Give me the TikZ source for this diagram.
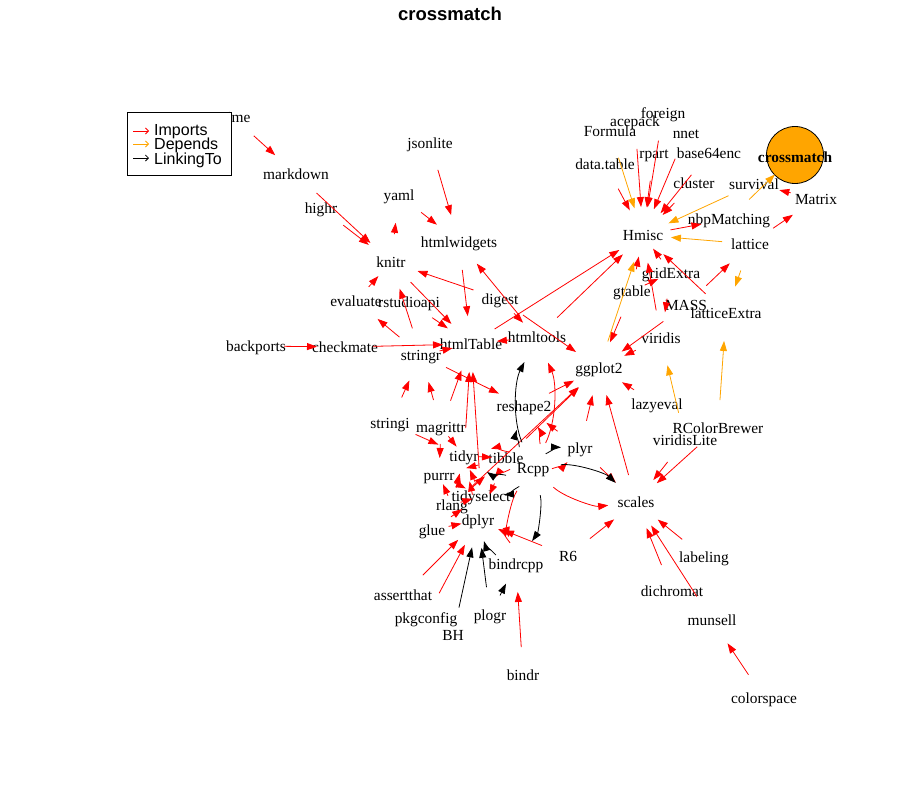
\documentclass[tikz,border=0pt]{standalone}
\usepackage{fontspec}
\setmainfont{Liberation Serif}
\setsansfont{Liberation Sans}
\usetikzlibrary{arrows.meta}
\definecolor{dorange}{HTML}{FFA500}
\definecolor{dred}{HTML}{FF0000}
\tikzset{
  lbl/.style={font=\fontsize{15.4}{15.4}\selectfont, inner sep=0pt, text height=10pt, text depth=0pt},
  edge/.style={line width=0.8pt, shorten >=28pt, shorten <=28pt, -{Triangle[length=10pt,width=7pt]}},
  imp/.style={edge, draw=dred},
  dep/.style={edge, draw=dorange},
  lnk/.style={edge, draw=black},
  sh/.style={shorten >=#1pt, shorten <=#1pt},
  legarrow/.style={line width=0.8pt, -{Straight Barb[length=3pt,width=6pt]}}
}
\newcommand\ed[3]{\draw[#1] (#2.center) -- (#3.center);}
\newcommand\cv[3]{\draw[#1] (#2.center) to (#3.center);}
\begin{document}
\begin{tikzpicture}[x=1pt,y=-1pt]
\useasboundingbox (0,0) rectangle (901,811);
% vertices (positions)
\node[lbl] (mime) at (233,117) {mime};
\node[lbl] (markdown) at (296,174) {markdown};
\node[lbl] (jsonlite) at (430,143) {jsonlite};
\node[lbl] (yaml) at (399,195) {yaml};
\node[lbl] (highr) at (321,208) {highr};
\node[lbl] (htmlwidgets) at (459,242) {htmlwidgets};
\node[lbl] (knitr) at (391,262) {knitr};
\node[lbl] (evaluate) at (356,301) {evaluate};
\node[lbl] (rstudioapi) at (409,302) {rstudioapi};
\node[lbl] (digest) at (500,299) {digest};
\node[lbl] (backports) at (256,346) {backports};
\node[lbl] (checkmate) at (345,347) {checkmate};
\node[lbl] (htmlTable) at (471,344) {htmlTable};
\node[lbl] (stringr) at (421,355) {stringr};
\node[lbl] (htmltools) at (537,337) {htmltools};
\node[lbl] (foreign) at (663,113) {foreign};
\node[lbl] (acepack) at (635,121) {acepack};
\node[lbl] (Formula) at (610,131) {Formula};
\node[lbl] (nnet) at (686,133) {nnet};
\node[lbl] (rpart) at (654,153) {rpart};
\node[lbl] (base64enc) at (709,153) {base64enc};
\node[lbl] (datatable) at (605,164) {data.table};
\node[lbl] (cluster) at (694,183) {cluster};
\node[lbl] (survival) at (754,184) {survival};
\node[lbl] (Matrix) at (816,199) {Matrix};
\node[lbl] (nbpMatching) at (729,219) {nbpMatching};
\node[lbl] (Hmisc) at (643,235) {Hmisc};
\node[lbl] (lattice) at (750,244) {lattice};
\node[lbl] (gridExtra) at (671,273) {gridExtra};
\node[lbl] (gtable) at (632,291) {gtable};
\node[lbl] (MASS) at (686,305) {MASS};
\node[lbl] (latticeExtra) at (726,313) {latticeExtra};
\node[lbl] (viridis) at (661,338) {viridis};
\node[lbl] (ggplot2) at (599,368) {ggplot2};
\node[lbl] (lazyeval) at (657,404) {lazyeval};
\node[lbl] (reshape2) at (524,406) {reshape2};
\node[lbl] (stringi) at (390,423) {stringi};
\node[lbl] (magrittr) at (441,427) {magrittr};
\node[lbl] (RColorBrewer) at (718,428) {RColorBrewer};
\node[lbl] (viridisLite) at (685,440) {viridisLite};
\node[lbl] (plyr) at (580,448) {plyr};
\node[lbl] (tidyr) at (464,456) {tidyr};
\node[lbl] (tibble) at (506,458) {tibble};
\node[lbl] (Rcpp) at (533,468) {Rcpp};
\node[lbl] (purrr) at (439,475) {purrr};
\node[lbl] (tidyselect) at (481,496) {tidyselect};
\node[lbl] (scales) at (636,502) {scales};
\node[lbl] (rlang) at (452,505) {rlang};
\node[lbl] (dplyr) at (478,520) {dplyr};
\node[lbl] (glue) at (432,530) {glue};
\node[lbl] (R6) at (568,556) {R6};
\node[lbl] (labeling) at (704,557) {labeling};
\node[lbl] (bindrcpp) at (516,564) {bindrcpp};
\node[lbl] (dichromat) at (672,591) {dichromat};
\node[lbl] (assertthat) at (403,595) {assertthat};
\node[lbl] (plogr) at (490,615) {plogr};
\node[lbl] (pkgconfig) at (426,618) {pkgconfig};
\node[lbl] (munsell) at (712,620) {munsell};
\node[lbl] (BH) at (453,635) {BH};
\node[lbl] (bindr) at (523,675) {bindr};
\node[lbl] (colorspace) at (764,698) {colorspace};
% edges: Imports
\ed{imp}{mime}{markdown}
\ed{imp}{markdown}{knitr}
\ed{imp}{highr}{knitr}
\ed{imp}{knitr}{yaml}
\ed{imp}{yaml}{htmlwidgets}
\ed{imp}{jsonlite}{htmlwidgets}
\ed{imp}{htmlwidgets}{htmlTable}
\ed{imp}{htmltools}{htmlwidgets}
\ed{imp}{digest}{knitr}
\ed{imp}{knitr}{htmlTable}
\ed{imp}{rstudioapi}{htmlTable}
\ed{imp}{stringr}{knitr}
\ed{imp}{stringr}{evaluate}
\ed{imp,sh=19}{evaluate}{knitr}
\ed{imp}{backports}{checkmate}
\ed{imp}{checkmate}{htmlTable}
\ed{imp,sh=19}{stringr}{htmlTable}
\ed{imp,sh=20}{digest}{htmltools}
\ed{imp,sh=26}{htmltools}{htmlTable}
\ed{imp}{htmltools}{Hmisc}
\ed{imp}{htmlTable}{Hmisc}
\ed{imp}{digest}{ggplot2}
\ed{imp}{stringr}{reshape2}
\ed{imp}{stringi}{stringr}
\ed{imp}{magrittr}{stringr}
\ed{imp}{magrittr}{htmlTable}
\ed{imp}{tidyr}{htmlTable}
\ed{imp}{tidyselect}{htmlTable}
\ed{imp}{plyr}{reshape2}
\ed{imp}{reshape2}{ggplot2}
\ed{imp}{tibble}{ggplot2}
\ed{imp,sh=14}{tidyr}{tibble}
\ed{imp}{gtable}{ggplot2}
\ed{imp}{MASS}{ggplot2}
\ed{imp}{viridis}{ggplot2}
\ed{imp,sh=27}{lazyeval}{ggplot2}
\ed{imp}{plyr}{ggplot2}
\ed{imp}{scales}{ggplot2}
\ed{imp}{rlang}{ggplot2}
\ed{imp}{plyr}{scales}
\ed{imp}{RColorBrewer}{scales}
\ed{imp}{viridisLite}{scales}
\ed{imp}{R6}{scales}
\ed{imp}{labeling}{scales}
\ed{imp}{dichromat}{scales}
\ed{imp}{munsell}{scales}
\ed{imp}{colorspace}{munsell}
\ed{imp}{R6}{dplyr}
\ed{imp}{datatable}{Hmisc}
\ed{imp}{acepack}{Hmisc}
\ed{imp}{foreign}{Hmisc}
\ed{imp}{nnet}{Hmisc}
\ed{imp}{rpart}{Hmisc}
\ed{imp}{base64enc}{Hmisc}
\ed{imp}{cluster}{Hmisc}
\ed{imp,sh=17}{gridExtra}{Hmisc}
\ed{imp,sh=22}{gtable}{Hmisc}
\ed{imp}{viridis}{Hmisc}
\ed{imp}{latticeExtra}{Hmisc}
\ed{imp}{Hmisc}{nbpMatching}
\ed{imp}{lattice}{Matrix}
\ed{imp,sh=26}{Matrix}{survival}
\ed{imp,sh=14}{gtable}{gridExtra}
\ed{imp}{MASS}{lattice}
\ed{imp,sh=26}{gridExtra}{viridis}
\ed{imp}{stringi}{tidyr}
\ed{imp,sh=17}{magrittr}{purrr}
\ed{imp,sh=12}{magrittr}{tidyr}
\ed{imp}{assertthat}{dplyr}
\ed{imp}{pkgconfig}{dplyr}
\ed{imp,sh=17}{glue}{dplyr}
\ed{imp}{bindr}{bindrcpp}
\ed{imp,sh=17}{purrr}{tidyselect}
\ed{imp,sh=9}{rlang}{tidyselect}
\ed{imp,sh=10}{rlang}{purrr}
\ed{imp,sh=23}{glue}{tidyselect}
\ed{imp}{tibble}{dplyr}
\ed{imp,sh=15}{tidyselect}{tidyr}
\ed{imp,sh=26}{dplyr}{tidyr}
\ed{imp,sh=18}{rlang}{tidyr}
\ed{imp}{tibble}{purrr}
\ed{imp}{rlang}{tibble}
% Rcpp: Imports + LinkingTo
\cv{imp,bend right=25}{Rcpp}{htmltools}
\cv{lnk,bend left=25}{Rcpp}{htmltools}
\cv{imp,sh=25,bend right=25}{Rcpp}{reshape2}
\cv{lnk,sh=25,bend left=25}{Rcpp}{reshape2}
\cv{imp,sh=19,bend right=25}{Rcpp}{plyr}
\cv{lnk,sh=19,bend left=25}{Rcpp}{plyr}
\cv{imp,bend right=25}{Rcpp}{scales}
\cv{lnk,bend left=25}{Rcpp}{scales}
\cv{imp,bend right=25}{Rcpp}{bindrcpp}
\cv{lnk,bend left=25}{Rcpp}{bindrcpp}
\cv{imp,sh=23,bend right=25}{Rcpp}{tidyselect}
\cv{lnk,sh=23,bend left=25}{Rcpp}{tidyselect}
\cv{imp,bend right=25}{Rcpp}{tidyr}
\cv{lnk,bend left=25}{Rcpp}{tidyr}
\cv{imp,sh=22,bend right=25}{bindrcpp}{dplyr}
\cv{lnk,sh=22,bend left=25}{bindrcpp}{dplyr}
% LinkingTo only
\ed{lnk}{BH}{dplyr}
\ed{lnk}{plogr}{dplyr}
\ed{lnk,sh=22}{plogr}{bindrcpp}
% Depends
\ed{dep}{Formula}{Hmisc}
\ed{dep}{survival}{Hmisc}
\ed{dep}{lattice}{Hmisc}
\ed{dep}{ggplot2}{Hmisc}
\ed{dep}{lattice}{latticeExtra}
\ed{dep}{RColorBrewer}{latticeExtra}
\ed{dep}{viridisLite}{viridis}
% crossmatch vertex
\node[circle, draw=black, fill=dorange, line width=0.8pt, minimum size=57pt, inner sep=0pt] (crossmatch) at (795,155) {};
\ed{dep}{nbpMatching}{crossmatch}
\node[lbl, font=\fontsize{15.4}{15.4}\selectfont\bfseries] (cmlabel) at (795,157) {crossmatch};
% title
\node[font=\fontsize{18.5}{18.5}\selectfont\sffamily\bfseries, inner sep=0pt] (title) at (450,14) {crossmatch};
% legend
\node[draw=black, fill=white, line width=0.8pt, minimum width=104pt, minimum height=63pt, inner sep=0pt] (legend) at (179,143.5) {};
\begin{scope}[font=\fontsize{16}{16}\selectfont\sffamily]
\draw[legarrow, dred] (133,131) -- (149,131);
\draw[legarrow, dorange] (133,144) -- (149,144);
\draw[legarrow, black] (133,158) -- (149,158);
\node[anchor=west, inner sep=0pt] (limp) at (154,131.5) {Imports};
\node[anchor=west, inner sep=0pt] (ldep) at (154,145) {Depends};
\node[anchor=west, inner sep=0pt] (llnk) at (154,160) {LinkingTo};
\end{scope}
\end{tikzpicture}
\end{document}
